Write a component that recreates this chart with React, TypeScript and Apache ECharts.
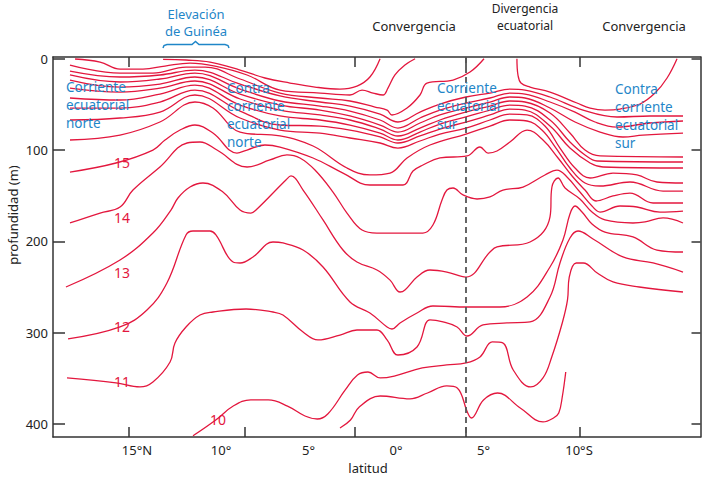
import React, { useEffect, useRef } from "react";
import * as echarts from "echarts";

// ---------- axes ----------
const latLabelValues = [-15, -10, -5, 0, 5, 10];
const latLabelTexts = ["15°N", "10°", "5°", "0°", "5°", "10°S"];
const latTickMarks = [-15.26, -8.63, -2.34, 4.0, 10.51];
const depthTicks = [0, 100, 200, 300, 400];
const latMin = -19.6;
const latMax = 17.4;
const depthMin = -1.9;
const depthMax = 414.3;
const divergenceLat = 4.0;

// ---------- isotherms: [latitude (°, S positive), depth (m)] ----------
const iso26 = [[-13.31,0.8],[-12.0,1.4],[-10.63,3.6],[-8.91,12.4],[-7.49,21.1],[-6.06,26.6],[-4.63,31.0],[-3.2,33.2],[-2.23,29.9],[-1.49,20.0],[-0.91,0]];
const iso25 = [[-18.34,0.3],[-16.91,3.6],[-15.77,11.3],[-14.46,11.3],[-13.2,8.0],[-11.77,4.7],[-10.34,8.0],[-8.51,17.8],[-6.63,34.3],[-4.34,37.6],[-2.63,39.7],[-1.94,34.3],[-1.31,37.6],[-0.74,39.7],[-0.46,32.1],[-0.06,17.8],[0.51,6.9],[1.09,0]];
const iso24 = [[-18.63,6.9],[-15.77,15.7],[-13.89,15.7],[-12.0,9.1],[-10.91,9.1],[-8.91,22.2],[-6.63,37.6],[-4.34,43.0],[-2.63,46.3],[-1.2,52.9],[-0.51,56.2],[-0.23,61.6],[0.63,54.0],[1.37,39.7],[1.77,26.6],[3.26,23.3],[4.23,14.6],[5.03,0]];
const iso23 = [[-18.63,13.5],[-15.77,20.0],[-13.49,17.8],[-11.49,12.4],[-8.91,27.7],[-6.63,40.8],[-4.34,47.4],[-2.63,51.8],[-0.91,60.6],[0.11,69.3],[1.37,58.4],[2.51,49.6],[4.0,41.9],[5.37,37.6],[6.51,33.2],[7.37,34.3],[8.8,41.9],[10.69,56.2],[12.63,63.8],[14.51,62.7],[16.4,62.7]];
const iso22 = [[-18.63,17.8],[-15.77,25.5],[-13.49,22.2],[-11.49,15.7],[-8.91,33.2],[-6.63,46.3],[-4.34,51.8],[-2.63,57.3],[-0.91,67.1],[0.11,75.9],[1.37,64.9],[2.51,56.2],[4.0,48.5],[5.37,43.0],[6.51,37.6],[7.37,38.7],[8.8,47.4],[10.23,58.4],[11.37,69.3],[12.63,74.8],[14.51,70.4],[16.4,68.2]];
const iso21 = [[-18.63,23.3],[-15.77,31.0],[-13.49,27.7],[-11.49,20.0],[-8.91,38.7],[-6.63,50.7],[-4.34,56.2],[-2.63,62.7],[-0.91,72.6],[0.11,80.3],[1.37,70.4],[2.51,61.6],[4.0,54.0],[5.37,47.4],[6.51,41.9],[7.37,43.0],[8.8,54.0],[10.23,69.3],[11.66,80.3],[12.97,85.7],[14.11,83.6],[16.4,81.4]];
const iso20 = [[-18.63,32.1],[-15.77,36.5],[-13.49,32.1],[-11.49,24.4],[-8.91,44.1],[-6.63,56.2],[-4.34,61.6],[-2.63,67.1],[-0.91,77.0],[0.11,84.6],[1.37,75.9],[2.51,67.1],[4.0,58.4],[5.37,51.8],[6.51,46.3],[7.37,47.4],[8.8,59.5],[9.94,81.4],[10.8,100.0],[11.66,106.5],[16.4,107.6]];
const iso19 = [[-18.63,43.0],[-15.77,45.2],[-13.49,38.7],[-11.49,28.8],[-8.91,50.7],[-6.63,62.7],[-4.34,67.1],[-2.63,72.6],[-0.91,81.4],[0.11,89.0],[1.37,80.3],[2.51,71.5],[4.0,63.8],[5.37,56.2],[6.51,50.7],[7.37,51.8],[8.8,67.1],[9.94,91.2],[10.8,105.4],[11.49,112.0],[16.4,113.1]];
const iso18 = [[-18.63,54.0],[-15.77,54.0],[-13.49,47.4],[-11.49,34.3],[-8.91,57.3],[-6.63,72.6],[-4.34,73.7],[-2.63,78.1],[-0.91,85.7],[0.11,92.3],[1.37,84.6],[2.51,77.0],[4.0,69.3],[5.37,61.6],[6.51,55.1],[7.37,56.2],[8.8,73.7],[9.94,97.8],[11.09,114.2],[11.83,118.6],[16.4,119.7]];
const iso17 = [[-18.63,67.1],[-15.77,64.9],[-13.49,58.4],[-11.49,39.7],[-8.91,64.9],[-6.63,78.1],[-4.34,81.4],[-2.63,86.8],[-0.91,92.3],[0.11,97.8],[1.37,90.1],[2.51,82.5],[4.0,75.9],[5.37,67.1],[6.51,60.6],[7.49,61.6],[8.51,73.7],[9.37,97.8],[10.23,119.7],[11.09,130.6],[12.4,125.2],[13.77,127.3],[14.91,135.0],[16.4,136.1]];
const iso16 = [[-18.63,89.0],[-15.77,83.6],[-13.49,69.3],[-11.49,47.4],[-10.46,54.0],[-8.91,80.3],[-6.63,84.6],[-4.74,95.6],[-2.8,119.7],[-1.49,127.3],[-0.34,125.2],[0.63,108.7],[1.94,94.5],[4.0,82.5],[5.37,73.7],[6.51,67.1],[7.49,68.2],[8.34,78.1],[9.14,97.8],[9.94,119.7],[10.8,136.1],[11.66,139.4],[13.37,135.0],[15.26,144.9],[16.4,144.9]];
const iso15 = [[-18.63,124.1],[-16.0,114.2],[-13.89,100.0],[-13.2,89.0],[-12.34,78.1],[-11.49,72.6],[-10.46,81.4],[-9.09,103.3],[-8.51,100.0],[-7.49,94.5],[-6.63,96.7],[-4.74,108.7],[-3.03,125.2],[-1.49,138.3],[0.4,138.3],[0.97,123.0],[1.54,116.4],[2.51,108.7],[4.06,106.5],[4.8,96.7],[5.26,103.3],[5.77,101.1],[6.51,91.2],[7.49,78.1],[8.4,89.0],[9.26,108.7],[10.06,128.4],[10.8,143.8],[11.43,155.8],[12.4,150.3],[13.37,147.1],[14.69,158.0],[16.4,158.0]];
const iso14 = [[-18.63,179.9],[-16.91,169.0],[-15.77,162.4],[-15.03,143.8],[-13.49,118.6],[-11.94,92.3],[-11.2,91.2],[-10.23,100.0],[-8.51,118.6],[-7.2,110.9],[-6.23,105.4],[-5.49,108.7],[-4.63,121.9],[-3.6,146.0],[-2.8,169.0],[-1.94,187.6],[-1.09,190.9],[1.54,190.9],[2.11,182.1],[2.63,154.7],[2.91,143.8],[3.26,141.6],[3.83,149.2],[4.63,153.6],[5.37,151.4],[6.11,143.8],[7.26,140.5],[8.51,127.3],[9.2,121.9],[9.77,129.5],[10.51,146.0],[11.2,161.3],[11.66,167.9],[12.8,161.3],[13.77,162.4],[15.09,167.9],[16.4,166.8]];
const iso13 = [[-18.86,250.0],[-15.77,220.4],[-13.89,190.9],[-12.86,165.7],[-12.46,152.5],[-11.77,140.5],[-11.03,136.1],[-9.89,146.0],[-8.91,165.7],[-8.29,169.0],[-8.0,165.7],[-6.29,132.8],[-6.0,128.4],[-5.31,143.8],[-4.17,176.6],[-3.03,209.5],[-2.23,222.6],[-1.09,231.4],[-0.34,242.5],[0.23,255.5],[0.51,253.3],[1.2,239.1],[1.94,231.4],[2.91,233.6],[4.0,239.1],[5.37,211.7],[5.77,206.1],[7.66,200.7],[8.8,173.3],[8.91,140.5],[9.26,130.6],[9.66,141.6],[10.51,153.6],[11.2,167.9],[11.94,176.6],[13.54,179.9],[14.23,178.8],[15.26,174.4],[16.4,179.9]];
const iso12 = [[-18.74,306.9],[-15.77,293.8],[-14.23,275.2],[-13.09,245.6],[-12.0,193.0],[-11.6,188.7],[-10.63,188.7],[-10.29,193.0],[-9.31,222.6],[-8.91,223.7],[-8.17,217.1],[-7.03,200.7],[-6.46,201.8],[-5.31,209.5],[-4.17,228.1],[-2.63,266.4],[-1.49,278.5],[-0.51,293.8],[-0.23,296.0],[0.23,289.4],[1.2,278.5],[2.11,270.8],[4.06,271.9],[5.94,271.9],[7.49,261.0],[8.8,228.1],[9.54,198.5],[9.94,170.1],[10.23,161.3],[10.63,167.9],[11.2,181.0],[11.94,189.8],[13.54,195.2],[14.91,209.5],[16.4,211.7]];
const iso11 = [[-18.8,349.6],[-16.0,355.1],[-14.63,359.5],[-13.89,354.0],[-12.91,332.1],[-12.63,311.3],[-12.0,293.8],[-11.2,280.7],[-10.46,277.4],[-8.57,274.1],[-7.03,277.4],[-6.46,280.7],[-5.31,299.3],[-4.46,308.0],[-3.2,302.6],[-2.23,297.1],[-1.09,297.1],[-0.51,308.0],[0.11,324.5],[1.2,315.7],[1.94,286.1],[2.69,288.3],[3.49,293.8],[4.06,303.7],[4.97,291.6],[6.34,289.4],[7.66,288.3],[8.8,261.0],[9.37,223.7],[9.94,196.3],[10.4,188.7],[11.26,197.4],[12.97,217.1],[14.69,223.7],[16.4,233.6]];
const iso10 = [[-11.6,413],[-10.3,395.7],[-9.3,380.4],[-8.3,373.7],[-7.3,373.7],[-6.2,380.4],[-5.2,391.3],[-4.5,394.6],[-3.9,389.1],[-2.9,362.8],[-2.2,346.4],[-1.6,343.1],[-0.9,349.6],[-0.1,347.5],[1.5,338.7],[2.9,335.4],[4.0,333.2],[4.8,326.6],[5.5,310.2],[6.1,311.3],[6.7,340.9],[7.7,359.5],[8.4,349.6],[8.9,326.6],[9.5,289.4],[9.8,264.2],[9.9,239.1],[10.3,223.7],[10.7,223.7],[11.5,234.7],[12.4,244.5],[13.9,250],[16.4,255.5]];
const iso9 = [[-3.2,404.4],[-2.6,395.7],[-2.1,381.4],[-0.9,369.4],[0.8,372.6],[1.8,366.1],[2.9,358.4],[3.5,360.6],[4.1,388],[4.3,393.5],[5.0,373.7],[5.8,366.1],[7.1,382.5],[8.4,397.8],[9.0,393.5],[9.3,388],[9.5,370.5],[9.7,343.1]];
const isoSouthBowl = [[6.91,0],[6.97,17.8],[7.14,26.6],[7.66,31.0],[8.8,36.5],[10.34,48.5],[11.09,54.0],[11.94,56.2],[12.8,55.1],[13.94,49.6],[14.8,37.6],[15.49,21.1],[16.06,0]];

const isotherms = [iso26, iso25, iso24, iso23, iso22, iso21, iso20, iso19, iso18, iso17, iso16, iso15, iso14, iso13, iso12, iso11, iso10, iso9, isoSouthBowl];

// ---------- annotations ----------
const isoLabels = ["15", "14", "13", "12", "11", "10"];
const isoLabelPos = [[122, 162], [122, 217], [122, 272], [122, 326], [122, 381], [218, 419]];
const currentLabels = [
  { lines: ["Corriente", "ecuatorial", "norte"], x: 66, y: 87 },
  { lines: ["Contra", "corriente", "ecuatorial", "norte"], x: 227, y: 88 },
  { lines: ["Corriente", "ecuatorial", "sur"], x: 437, y: 88 },
  { lines: ["Contra", "corriente", "ecuatorial", "sur"], x: 615, y: 89 },
];
const topLabels = [
  { text: "Elevación", x: 196, y: 14, blue: true, size: 13 },
  { text: "de Guinéa", x: 196, y: 31, blue: true, size: 13 },
  { text: "Convergencia", x: 414, y: 26, blue: false, size: 13 },
  { text: "Divergencia", x: 525, y: 8.5, blue: false, size: 12 },
  { text: "ecuatorial", x: 525, y: 25.5, blue: false, size: 12 },
  { text: "Convergencia", x: 644, y: 26, blue: false, size: 13 },
];

const RED = "#e3173e";
const BLUE = "#1f86c8";
const AXIS = "#333333";
const FONT = "'Noto Sans', 'DejaVu Sans', sans-serif";

export default function App() {
  const ref = useRef<HTMLDivElement>(null);
  useEffect(() => {
    if (!ref.current) return;
    const chart = echarts.init(ref.current, null, { renderer: "svg" });

    const axisLineStyle = { color: AXIS, width: 1.5 };
    const xAxisBase = {
      type: "value" as const,
      min: latMin,
      max: latMax,
      axisLine: { show: true, onZero: false, lineStyle: axisLineStyle },
      axisTick: { show: true, inside: true, length: 10, customValues: latTickMarks, lineStyle: axisLineStyle },
      splitLine: { show: false },
    };
    const yAxisBase = {
      type: "value" as const,
      inverse: true,
      min: depthMin,
      max: depthMax,
      axisLine: { show: true, onZero: false, lineStyle: axisLineStyle },
      splitLine: { show: false },
    };

    const graphic: any[] = [];
    currentLabels.forEach((c) => {
      c.lines.forEach((t, i) => {
        graphic.push({
          type: "text", x: c.x, y: c.y + i * 18, z: 10,
          style: { text: t, fill: BLUE, font: `13.5px ${FONT}`, lineHeight: 15, textAlign: "left", textVerticalAlign: "middle" },
        });
      });
    });
    isoLabels.forEach((t, i) => {
      graphic.push({
        type: "text", x: isoLabelPos[i][0], y: isoLabelPos[i][1], z: 10,
        style: { text: t, fill: RED, font: `14px ${FONT}`, textAlign: "center", textVerticalAlign: "middle" },
      });
    });
    topLabels.forEach((l) => {
      graphic.push({
        type: "text", x: l.x, y: l.y, z: 10,
        style: { text: l.text, fill: l.blue ? BLUE : "#222", font: `${l.size}px ${FONT}`, lineHeight: 14, textAlign: "center", textVerticalAlign: "middle" },
      });
    });
    graphic.push({
      type: "polyline", z: 10,
      shape: { points: [[163, 48], [164, 45.5], [167, 44.5], [192, 44.5], [195.5, 41.5], [199, 44.5], [225, 44.5], [228, 45.5], [229, 48]] },
      style: { stroke: BLUE, fill: "none", lineWidth: 1.5 },
    });
    graphic.push({
      type: "text", x: 13, y: 215, rotation: Math.PI / 2, z: 10,
      style: { text: "profundidad (m)", fill: "#222", font: `13px ${FONT}`, textAlign: "center", textVerticalAlign: "middle" },
    });
    graphic.push({
      type: "text", x: 368, y: 468, z: 10,
      style: { text: "latitud", fill: "#222", font: `13px ${FONT}`, textAlign: "center", textVerticalAlign: "middle" },
    });

    const series: any[] = isotherms.map((pts, i) => ({
      type: "line",
      name: "iso" + i,
      data: pts,
      xAxisIndex: 0,
      yAxisIndex: 0,
      showSymbol: false,
      symbol: "none",
      smooth: 0.4,
      silent: true,
      lineStyle: { color: RED, width: 1.3 },
      z: 3,
    }));
    series.push({
      type: "line",
      name: "divergence",
      data: [[divergenceLat, depthMin], [divergenceLat, depthMax]],
      showSymbol: false,
      symbol: "none",
      silent: true,
      lineStyle: { color: "#555", width: 1.8, type: [6, 4] },
      z: 4,
    });

    chart.setOption({
      animation: false,
      grid: { left: 53, right: 1.5, top: 57, bottom: 45, containLabel: false },
      xAxis: [
        {
          ...xAxisBase,
          position: "bottom",
          axisLabel: {
            customValues: latLabelValues,
            margin: 6,
            color: "#222",
            fontSize: 13,
            fontFamily: FONT,
            formatter: (v: number) => {
              const idx = latLabelValues.indexOf(Math.round(v));
              const t = idx >= 0 ? latLabelTexts[idx] : "";
              if (idx === 0) return `{n|${t}}`;
              if (idx === latLabelValues.length - 1) return `{s|${t}}`;
              return t;
            },
            rich: {
              n: { padding: [0, 0, 0, 7], fontSize: 13, fontFamily: FONT, color: "#222" },
              s: { padding: [0, 0, 0, 16], fontSize: 13, fontFamily: FONT, color: "#222" },
            },
          },
        },
        { ...xAxisBase, position: "top", axisLabel: { show: false } },
      ],
      yAxis: [
        {
          ...yAxisBase,
          position: "left",
          axisTick: { show: true, inside: true, length: 12, customValues: depthTicks, lineStyle: axisLineStyle },
          axisLabel: { customValues: depthTicks, margin: 5, color: "#222", fontSize: 13, fontFamily: FONT },
        },
        {
          ...yAxisBase,
          position: "right",
          axisTick: { show: true, inside: true, length: 9, customValues: depthTicks, lineStyle: axisLineStyle },
          axisLabel: { show: false },
        },
      ],
      series,
      graphic,
    });
    return () => chart.dispose();
  }, []);
  return <div ref={ref} style={{ position: "fixed", left: 0, top: 0, width: 702, height: 482, background: "#fff" }} />;
}
